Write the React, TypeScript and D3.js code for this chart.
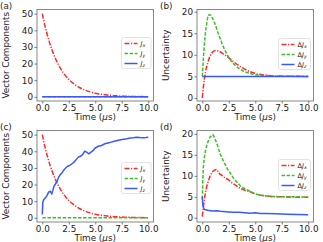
import { useEffect, useRef } from "react";
import * as d3 from "d3";

// time axis ticks
const xTicks = [0, 2.5, 5, 7.5, 10];
const vecTicks = [0, 10, 20, 30, 40, 50];
const uncTicks = [0, 5, 10, 15, 20];

// Jx decay (panels a and c)
const tJx = [0, 0.25, 0.5, 0.75, 1, 1.25, 1.5, 1.75, 2, 2.5, 3, 3.5, 4, 4.5, 5, 5.5, 6, 7, 8, 9, 10];
const jxDecay = [50, 42.7, 36.6, 31.3, 26.8, 22.9, 19.6, 16.8, 14.3, 10.5, 7.7, 5.6, 4.1, 3.0, 2.2, 1.6, 1.2, 0.6, 0.35, 0.2, 0.1];

const tFlat = [0, 10];
const zeroLine = [0, 0];
const fiveLine = [5, 5];

// panel c: Jz growth
const tJzC = [0, 0.05, 0.15, 0.3, 0.45, 0.6, 0.75, 0.9, 1.0, 1.1, 1.25, 1.4, 1.55, 1.7, 1.85, 2.0, 2.2, 2.4, 2.6, 2.8, 3.0, 3.2, 3.4, 3.6, 3.8, 4.0, 4.2, 4.4, 4.6, 4.8, 5.0, 5.3, 5.6, 5.9, 6.2, 6.5, 6.8, 7.1, 7.4, 7.7, 8.0, 8.3, 8.6, 8.9, 9.2, 9.5, 9.8, 10];
const jzC = [2, 9.5, 11, 12, 13.5, 15.5, 16, 14.5, 16.5, 19, 20.5, 22, 24.5, 26, 27, 28.5, 30, 31, 31.5, 32.5, 33.5, 35, 36.5, 37, 38, 40, 39.5, 38.5, 39.5, 40.5, 42, 43, 43.5, 44.5, 45, 45.5, 46, 46.5, 47, 47.3, 47.5, 48, 48.2, 48.5, 48.3, 48.2, 48.3, 48.5];

// panel b: uncertainties
const tDxB = [0, 0.1, 0.2, 0.3, 0.5, 0.75, 1.0, 1.25, 1.5, 2.0, 2.5, 3.0, 3.5, 4.0, 4.5, 5.0, 6.0, 7.0, 8.0, 9.0, 10];
const dJxB = [0, 2.5, 4.5, 6, 8, 9.8, 10.7, 11, 10.9, 10.2, 9.3, 8.3, 7.4, 6.7, 6.1, 5.7, 5.3, 5.1, 5.05, 5.02, 5.0];
const tDyB = [0, 0.1, 0.2, 0.3, 0.4, 0.5, 0.65, 0.8, 1.0, 1.25, 1.5, 2.0, 2.5, 3.0, 3.5, 4.0, 4.5, 5.0, 6, 7, 8, 10];
const dJyB = [5, 9, 12.5, 15.2, 17, 18.5, 19.3, 19.2, 18.3, 16.8, 15, 11.8, 9.4, 7.8, 6.8, 6.1, 5.7, 5.4, 5.15, 5.05, 5.02, 5.0];

// panel d: uncertainties
const tDxD = [0, 0.1, 0.2, 0.3, 0.45, 0.6, 0.75, 0.9, 1.05, 1.2, 1.35, 1.5, 1.65, 1.8, 2.0, 2.2, 2.4, 2.6, 2.8, 3.0, 3.3, 3.6, 3.9, 4.2, 4.5, 4.8, 5.1, 5.5, 6, 6.5, 7, 7.5, 8, 8.5, 9, 9.5, 10];
const dJxD = [0.3, 2.5, 4.5, 6, 7.8, 9, 10, 10.8, 11.2, 11.4, 11.5, 11.0, 10.4, 10.2, 9.8, 9.4, 9.2, 8.8, 8.3, 8.0, 7.5, 7.0, 6.7, 6.4, 6.2, 5.9, 5.6, 5.4, 5.2, 5.1, 5.0, 5.0, 4.95, 4.95, 4.9, 4.9, 4.9];
const tDyD = [0, 0.05, 0.1, 0.2, 0.3, 0.45, 0.6, 0.75, 0.9, 1.0, 1.1, 1.25, 1.4, 1.55, 1.7, 1.85, 2.0, 2.2, 2.4, 2.6, 2.8, 3.0, 3.3, 3.6, 3.9, 4.2, 4.5, 4.8, 5.1, 5.5, 6, 6.5, 7, 7.5, 8, 9, 10];
const dJyD = [4.5, 9, 12, 14.5, 16, 17.5, 18.5, 19.3, 19.6, 19.8, 19.4, 18.5, 17.5, 16.3, 15.2, 14.3, 13.5, 12.5, 11.5, 10.8, 10, 9.2, 8.4, 7.6, 7.1, 6.7, 6.3, 5.9, 5.6, 5.4, 5.2, 5.1, 5.05, 5.0, 5.0, 5.0, 4.95];
const tDzD = [0, 0.05, 0.1, 0.2, 0.35, 0.5, 0.8, 1.1, 1.4, 1.7, 2.0, 2.5, 3.0, 3.5, 4.0, 4.5, 5.0, 5.5, 6, 7, 8, 9, 10];
const dJzD = [5, 3.2, 2.5, 2.0, 1.9, 1.8, 1.7, 1.6, 1.7, 1.55, 1.5, 1.4, 1.3, 1.3, 1.2, 1.1, 1.2, 1.05, 1.0, 0.95, 0.85, 0.8, 0.75];

const RED = "#ff2a2a";
const GREEN = "#3cc028";
const BLUE = "#3a58ff";
const FONT = "DejaVu Sans, sans-serif";

type Series = { t: number[]; v: number[]; color: string; dash: string; smooth: boolean };

interface PanelProps {
  x: number;
  y: number;
  tag: string;
  yLabel: string;
  yDomain: [number, number];
  yTicks: number[];
  series: Series[];
  delta: boolean;
  legendTop: number;
}

function Panel({ x, y, tag, yLabel, yDomain, yTicks, series, delta, legendTop }: PanelProps) {
  const gRef = useRef<SVGGElement>(null);

  useEffect(() => {
    if (!gRef.current) return;
    const root = d3.select(gRef.current);
    root.selectAll("*").remove();

    const margin = { top: 9.5, right: 6.5, bottom: 20, left: 37 };
    const innerW = 160 - margin.left - margin.right;
    const innerH = 121 - margin.top - margin.bottom;

    root.append("text")
      .attr("x", 0).attr("y", 8.5)
      .attr("font-family", FONT).attr("font-size", "8.8px").attr("fill", "#222")
      .text(tag);

    const g = root.append("g").attr("transform", `translate(${margin.left},${margin.top})`);

    const xScale = d3.scaleLinear().domain([-0.5, 10.5]).range([0, innerW]);
    const yScale = d3.scaleLinear().domain(yDomain).range([innerH, 0]);

    // lines
    series.forEach(s => {
      const pts = s.t.map((t, i) => [t, s.v[i]] as [number, number]);
      const line = d3.line<[number, number]>()
        .x(d => xScale(d[0]))
        .y(d => yScale(d[1]))
        .curve(s.smooth ? d3.curveMonotoneX : d3.curveLinear);
      g.append("path")
        .datum(pts)
        .attr("fill", "none")
        .attr("stroke", s.color)
        .attr("stroke-width", 1.5)
        .attr("stroke-dasharray", s.dash)
        .attr("d", line);
    });

    // axes
    const xAxis = d3.axisBottom(xScale).tickValues(xTicks).tickFormat(d => d3.format(".1f")(d as number)).tickSize(2.5).tickPadding(1);
    const yAxis = d3.axisLeft(yScale).tickValues(yTicks).tickFormat(d => String(d)).tickSize(2.5).tickPadding(1.5);

    const gx = g.append("g").attr("transform", `translate(0,${innerH})`).call(xAxis);
    const gy = g.append("g").call(yAxis);
    [gx, gy].forEach(ax => {
      ax.select(".domain").remove();
      ax.selectAll("line").attr("stroke", "#444").attr("stroke-width", 0.7);
      ax.selectAll("text").attr("fill", "#222").attr("font-size", "8.8px").attr("font-family", FONT);
    });

    g.append("rect")
      .attr("x", 0).attr("y", 0).attr("width", innerW).attr("height", innerH)
      .attr("fill", "none").attr("stroke", "#555").attr("stroke-width", 0.7);

    // axis labels
    const xl = g.append("text")
      .attr("x", innerW / 2).attr("y", innerH + 18.8)
      .attr("text-anchor", "middle")
      .attr("font-family", FONT).attr("font-size", "8.8px").attr("fill", "#222");
    xl.append("tspan").text("Time (");
    xl.append("tspan").attr("font-style", "italic").text("μ");
    xl.append("tspan").text("s)");

    g.append("text")
      .attr("transform", "rotate(-90)")
      .attr("x", -innerH / 2).attr("y", -margin.left + 9)
      .attr("text-anchor", "middle")
      .attr("font-family", FONT).attr("font-size", "8.8px").attr("fill", "#222")
      .text(yLabel);

    // legend
    const lx = delta ? innerW - 35 : innerW - 32;
    const lw = delta ? 32 : 29.5;
    const leg = g.append("g").attr("transform", `translate(${lx},${legendTop})`);
    leg.append("rect")
      .attr("width", lw).attr("height", 31).attr("rx", 2)
      .attr("fill", "white").attr("fill-opacity", 0.85)
      .attr("stroke", "#d0d0d0").attr("stroke-width", 0.6);
    const subs = ["x", "y", "z"];
    series.slice(0, 3).forEach((s, i) => {
      const yy = 6 + i * 10;
      leg.append("line")
        .attr("x1", 3).attr("x2", 16).attr("y1", yy).attr("y2", yy)
        .attr("stroke", s.color).attr("stroke-width", 1.5).attr("stroke-dasharray", s.dash);
      const tx = leg.append("text")
        .attr("x", 19).attr("y", yy + 2.3)
        .attr("font-family", FONT).attr("font-size", "6.5px").attr("fill", "#222");
      if (delta) tx.append("tspan").text("Δ");
      tx.append("tspan").attr("font-style", "italic").text("J");
      tx.append("tspan").attr("font-style", "italic").attr("font-size", "4.8px").attr("dy", 1.3).text(subs[i]);
    });
  }, [tag, yLabel, yDomain, yTicks, series, delta, legendTop]);

  return <g ref={gRef} transform={`translate(${x},${y})`} />;
}

const DASHDOT = "5,1.5,1.2,1.5";
const DASHED = "3.5,1.6";

export default function App() {
  return (
    <svg width={323} height={242} style={{ position: "absolute", left: 0, top: 0, background: "white" }}>
      <Panel
        x={0} y={0} tag="(a)" yLabel="Vector Components" yDomain={[-2.5, 52.5]} yTicks={vecTicks}
        delta={false} legendTop={28}
        series={[
          { t: tJx, v: jxDecay, color: RED, dash: DASHDOT, smooth: true },
          { t: tFlat, v: zeroLine, color: GREEN, dash: DASHED, smooth: false },
          { t: tFlat, v: zeroLine, color: BLUE, dash: "", smooth: false },
        ]}
      />
      <Panel
        x={160} y={0} tag="(b)" yLabel="Uncertainty" yDomain={[-0.7, 20.5]} yTicks={uncTicks}
        delta={true} legendTop={29}
        series={[
          { t: tDxB, v: dJxB, color: RED, dash: DASHDOT, smooth: true },
          { t: tDyB, v: dJyB, color: GREEN, dash: DASHED, smooth: true },
          { t: tFlat, v: fiveLine, color: BLUE, dash: "", smooth: false },
        ]}
      />
      <Panel
        x={0} y={121} tag="(c)" yLabel="Vector Components" yDomain={[-2.5, 52.5]} yTicks={vecTicks}
        delta={false} legendTop={32}
        series={[
          { t: tJx, v: jxDecay, color: RED, dash: DASHDOT, smooth: true },
          { t: tFlat, v: zeroLine, color: GREEN, dash: DASHED, smooth: false },
          { t: tJzC, v: jzC, color: BLUE, dash: "", smooth: false },
        ]}
      />
      <Panel
        x={160} y={121} tag="(d)" yLabel="Uncertainty" yDomain={[-1, 20.8]} yTicks={uncTicks}
        delta={true} legendTop={29}
        series={[
          { t: tDxD, v: dJxD, color: RED, dash: DASHDOT, smooth: false },
          { t: tDyD, v: dJyD, color: GREEN, dash: DASHED, smooth: false },
          { t: tDzD, v: dJzD, color: BLUE, dash: "", smooth: false },
        ]}
      />
    </svg>
  );
}
